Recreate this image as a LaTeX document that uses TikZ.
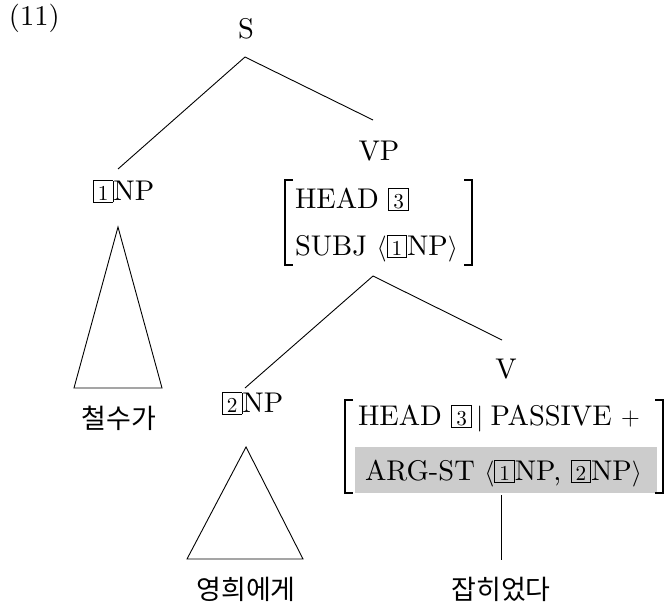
\documentclass[tikz,border=0pt]{standalone}
\usepackage{fontspec}
\setmainfont{lmroman10-regular.otf}
\newfontfamily\kr{Noto Sans CJK KR}
\definecolor{avmgray}{RGB}{204,204,204}
\newcommand\bnum[1]{{\setlength\fboxsep{0pt}\setlength\fboxrule{0.56pt}\fbox{\rule[-1.6pt]{0pt}{16.8pt}\makebox[15.2pt]{\fontsize{17}{17}\selectfont#1}}}}
\begin{document}
\begin{tikzpicture}[x=0.8pt,y=-0.8pt,
  every node/.style={inner sep=0pt, outer sep=0pt, font=\fontsize{22.8}{27}\selectfont},
  edge/.style={line width=0.72pt},
  brk/.style={line width=0.88pt},
  kor/.style={font=\kr\fontsize{21.6}{26}\selectfont}]
\useasboundingbox (0,0) rectangle (665,606);

% labels
\node[anchor=base west] (ex) at (9,26) {(11)};
\node[anchor=base] (S) at (246,39) {S};
\node[anchor=base] (VP) at (379,160) {VP};
\node[anchor=base west] (NP1) at (93,200) {\bnum{1}NP};
\node[anchor=base west] (vphead) at (295,208) {HEAD \bnum{3}};
\node[anchor=base west] (vpsubj) at (295,255) {SUBJ $\langle$\bnum{1}NP$\rangle$};
\draw[brk] (293,180) -- (285,180) -- (285,265) -- (293,265);
\draw[brk] (464,180) -- (472,180) -- (472,265) -- (464,265);
\node[kor] (w1) at (119,418) {철수가};
\node[anchor=base west] (NP2) at (222,412) {\bnum{2}NP};
\node[anchor=base] (V) at (506,378) {V};
\fill[avmgray] (355,447) rectangle (657,493);
\node[anchor=base west] (vhead) at (358,425) {HEAD \bnum{3}$\,|\;$PASSIVE $+$};
\node[anchor=base west] (varg) at (365,480) {ARG-ST $\langle$\bnum{1}NP, \bnum{2}NP$\rangle$};
\draw[brk] (353,400) -- (345,400) -- (345,493) -- (353,493);
\draw[brk] (655,400) -- (663,400) -- (663,493) -- (655,493);
\node[kor] (w2) at (246,589) {영희에게};
\node[kor] (w3) at (501,589) {잡히었다};

% connector end points
\coordinate (Sb) at (245,57);
\coordinate (NP1t) at (118,169);
\coordinate (VPt) at (373,120);
\coordinate (VPb) at (373,276);
\coordinate (NP2t) at (245,388);
\coordinate (Vt) at (502,340);
\coordinate (Vb) at (501,495);
\coordinate (w3t) at (501,560);
\coordinate (T1a) at (118,227);
\coordinate (T1l) at (74,388);
\coordinate (T1r) at (162,388);
\coordinate (T2a) at (246,447);
\coordinate (T2l) at (187,559);
\coordinate (T2r) at (303,559);

\draw[edge] (Sb) -- (NP1t);
\draw[edge] (Sb) -- (VPt);
\draw[edge] (VPb) -- (NP2t);
\draw[edge] (VPb) -- (Vt);
\draw[edge] (Vb) -- (w3t);
\draw[edge] (T1a) -- (T1l) -- (T1r) -- cycle;
\draw[edge] (T2a) -- (T2l) -- (T2r) -- cycle;
\end{tikzpicture}
\end{document}
